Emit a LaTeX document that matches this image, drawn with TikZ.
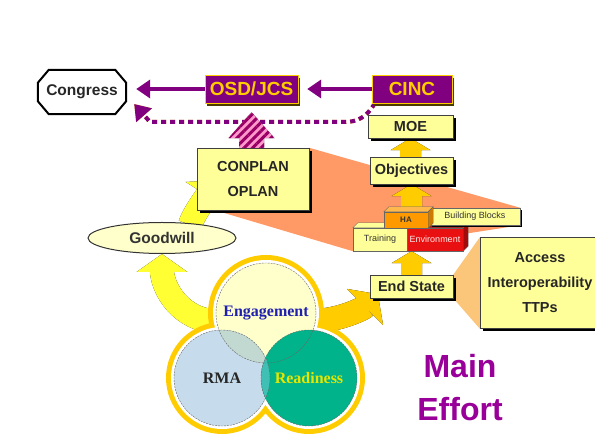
\documentclass[tikz,border=0pt]{standalone}
\usepackage{fontspec}
\setmainfont{Liberation Sans}
\newfontfamily\vennfont{Liberation Serif}
\usetikzlibrary{shapes.geometric,shadows,arrows.meta,patterns.meta,calc}
\pgfdeclarelayer{back}
\pgfsetlayers{back,main}
\definecolor{boxyellow}{HTML}{FFFF99}
\definecolor{paleyellow}{HTML}{FFFFCC}
\definecolor{gold}{HTML}{FFCC00}
\definecolor{brightyellow}{HTML}{FFFF33}
\definecolor{deeppurple}{HTML}{800080}
\definecolor{chiefshadow}{HTML}{4A3A00}
\definecolor{salmon}{HTML}{FF9966}
\definecolor{calloutorange}{HTML}{FBC67A}
\definecolor{rmablue}{HTML}{C6DCEC}
\definecolor{readygreen}{HTML}{00B38A}
\definecolor{engrma}{HTML}{C2D9D2}
\definecolor{rmaready}{HTML}{40BFB5}
\definecolor{engblue}{HTML}{2020B0}
\definecolor{readyyellow}{HTML}{E6E600}
\definecolor{haorange}{HTML}{FF9900}
\definecolor{envred}{HTML}{E81010}
\definecolor{stripepink}{HTML}{FF99CC}
\definecolor{stripepurple}{HTML}{990066}
\definecolor{mepurple}{HTML}{990099}

% block arrow pointing up: style, base point, tip point, head length, half shaft, half head
\newcommand\blockup[6]{%
  \foreach \s in {arrshadow,#1}{%
    \fill[\s] let \p1=(#2), \p2=(#3) in
      (\x2-#5,\y1) -- (\x2-#5,\y2-#4) -- (\x2-#6,\y2-#4) -- (\x2,\y2)
      -- (\x2+#6,\y2-#4) -- (\x2+#5,\y2-#4) -- (\x2+#5,\y1) -- cycle;}}
% wide curved arrow with its shadow
\newcommand\bandup[2]{%
  \foreach \s in {bandshadow,#1}{\draw[band,\s] #2;}}
% top and side face of a brick
\newcommand\brickface[3]{%
  \filldraw[fill=#2, draw=black!60] (#1.north west) -- ++(5,-5) -- ([shift={(5,-5)}]#1.north east) -- (#1.north east) -- cycle;
  \filldraw[fill=#3, draw=black!60] (#1.north east) -- ++(5,-5) -- ([shift={(5,-5)}]#1.south east) -- (#1.south east) -- cycle;}

\begin{document}
\begin{tikzpicture}[x=1pt,y=-1pt]
  \tikzset{
    box/.style={draw=black!75, fill=boxyellow, text=black!85, align=center, inner sep=0pt,
      font=\bfseries\fontsize{14.5}{25}\selectfont,
      drop shadow={shadow xshift=3pt,shadow yshift=-3pt,fill=black,opacity=1}},
    chief/.style={draw=gold, fill=deeppurple, text=gold, inner sep=0pt, minimum height=28pt,
      font=\bfseries\fontsize{19}{22}\selectfont,
      drop shadow={shadow xshift=2pt,shadow yshift=-3pt,fill=chiefshadow,opacity=1}},
    brick/.style={draw=black!60, inner sep=0pt, minimum height=23pt, text=black!80,
      font=\fontsize{9}{10}\selectfont},
    venn/.style={circle, draw=black!60, dash pattern=on 2pt off 1pt, inner sep=0pt,
      font=\vennfont\bfseries\fontsize{16}{18}\selectfont},
    chiefarrow/.style={draw=deeppurple, line width=3.5pt, -{Triangle[length=14pt,width=18pt]}},
    dotline/.style={line width=4pt, dash pattern=on 5pt off 4pt},
    arrshadow/.style={fill=black, shift={(3,1)}},
    goldarrow/.style={fill=gold},
    stripearrow/.style={preaction={fill=stripepink},
      pattern={Lines[angle=45,distance=6pt,line width=3pt]}, pattern color=stripepurple},
    band/.style={line width=24pt, -{Triangle[length=18pt,width=50pt]}},
    bandshadow/.style={draw=black, shift={(3,2)}},
    goodwillband/.style={draw=brightyellow},
    effortband/.style={draw=gold},
  }
  \useasboundingbox (0,0) rectangle (595,443);

  % top row
  \node[minimum width=88pt, minimum height=44pt, inner sep=0pt, text=black!85,
    font=\bfseries\fontsize{15.5}{18}\selectfont] (congress) at (82,92) {Congress};
  \node[chief, minimum width=93pt] (osd) at (251.5,89) {OSD/JCS};
  \node[chief, minimum width=80pt] (cinc) at (412,89) {CINC};

  % right column
  \node[box, minimum width=85pt, minimum height=23pt] (moe) at (410.5,126.5) {MOE};
  \node[box, minimum width=83pt, minimum height=27pt] (obj) at (411.5,170.5) {Objectives};
  \node[box, minimum width=112pt, minimum height=62pt] (conplan) at (253,179) {CONPLAN\\OPLAN};

  % building blocks
  \node[brick, fill=boxyellow, minimum width=54pt] (training) at (380,239.5) {Training};
  \brickface{training}{boxyellow}{boxyellow}
  \node[brick, fill=envred, text=pink!30!white, minimum width=56pt] (env) at (435,239.5) {Environment};
  \brickface{env}{envred!85!black}{envred!70!black}
  \node[brick, fill=boxyellow, minimum width=90pt, minimum height=17pt,
    drop shadow={shadow xshift=2pt,shadow yshift=-2pt,fill=black,opacity=1}] (bblocks) at (475,216.5) {Building Blocks};
  \node[brick, fill=haorange, minimum width=44pt, minimum height=16pt,
    font=\bfseries\fontsize{8}{9}\selectfont] (ha) at (406,220) {HA};
  \brickface{ha}{haorange!70!white}{haorange!80!black}

  \node[box, minimum width=83pt, minimum height=23pt] (endstate) at (411.5,286.5) {End State};
  \node[box, minimum width=120pt, minimum height=91pt] (access) at (540,283) {Access\\Interoperability\\TTPs};
  \node[ellipse, draw=black!80, line width=1pt, fill=paleyellow, minimum width=148pt, minimum height=31pt,
    inner sep=0pt, text=black!80, font=\bfseries\fontsize{15.5}{18}\selectfont] (goodwill) at (162,238) {Goodwill};

  % venn cluster
  \coordinate (ce) at (266,313);
  \coordinate (cr) at (222,378);
  \coordinate (cd) at (309,378);
  \fill[gold] (ce) circle (58pt) (cr) circle (56pt) (cd) circle (56pt);
  \fill[white] (ce) circle (53pt) (cr) circle (51pt) (cd) circle (51pt);
  \fill[paleyellow] (ce) circle (50pt);
  \fill[rmablue] (cr) circle (48pt);
  \fill[readygreen] (cd) circle (48pt);
  \begin{scope}
    \clip (ce) circle (50pt);
    \fill[engrma] (cr) circle (48pt);
  \end{scope}
  \begin{scope}
    \clip (cr) circle (48pt);
    \fill[rmaready] (cd) circle (48pt);
  \end{scope}
  \node[venn, minimum size=100pt, text=engblue] (eng) at (ce) {Engagement};
  \node[venn, minimum size=96pt, text=black!85] (rma) at (cr) {RMA};
  \node[venn, minimum size=96pt, text=readyyellow] (ready) at (cd) {Readiness};

  \node[text=mepurple, align=center, font=\bfseries\fontsize{32}{43}\selectfont] (effort) at (460,388) {Main\\Effort};

  % chain of command
  \draw[chiefarrow, shorten >=9pt] (cinc.west) -- (osd.east);
  \draw[chiefarrow, shorten >=10pt] (osd.west) -- (osd.west -| congress.east);

  \begin{pgfonlayer}{back}
    \fill[white] (0,0) rectangle (595,443);
    \fill[salmon] (conplan.north east) -- (bblocks.north east) -- (bblocks.south east)
      -- (training.south west) -- ([xshift=18pt]conplan.south west) -- cycle;
    \fill[calloutorange] (endstate.north east) -- (access.north west) -- (access.south west)
      -- (endstate.south east) -- cycle;
    \filldraw[line width=2pt, fill=white] ([xshift=11pt]congress.north west) -- ([xshift=-11pt]congress.north east)
      -- ([yshift=-13pt]congress.north east) -- ([yshift=13pt]congress.south east)
      -- ([xshift=-11pt]congress.south east) -- ([xshift=11pt]congress.south west)
      -- ([yshift=13pt]congress.south west) -- ([yshift=-13pt]congress.north west) -- cycle;
    % report back to congress
    \coordinate (bendR) at (345,122);
    \coordinate (bendL) at (150,122);
    \draw[dotline, draw=gold, shift={(1,1.5)}, -{Triangle[length=15pt,width=20pt]}]
      ([xshift=3pt]cinc.south west) .. controls +(-8,14) and +(12,0) .. (bendR) -- (bendL)
      -- ([shift={(8,12)}]congress.east);
    \draw[dotline, draw=deeppurple, -{Triangle[length=15pt,width=20pt,fill=deeppurple]}]
      ([xshift=3pt]cinc.south west) .. controls +(-8,14) and +(12,0) .. (bendR) -- (bendL)
      -- ([shift={(8,12)}]congress.east);
    % block arrows
    \blockup{stripearrow}{conplan.north}{[yshift=-9pt]osd.south}{26pt}{12.5pt}{23pt}
    \blockup{goldarrow}{obj.north}{moe.south}{12pt}{10.5pt}{20pt}
    \blockup{goldarrow}{ha.north}{obj.south}{12pt}{10.5pt}{20pt}
    \blockup{goldarrow}{endstate.north}{endstate.north |- env.south}{12pt}{10.5pt}{20pt}
    % curved arrows
    \bandup{goodwillband}{([shift={(-5,8)}]eng.west) .. controls +(-35,-5) and +(0,30) .. (goodwill.south)}
    \bandup{goodwillband}{([shift={(28,3)}]goodwill.north) .. controls +(4,-12) and +(-10,16) .. ([shift={(20,-30)}]conplan.south west)}
    \bandup{effortband}{([shift={(-4,8)}]eng.east) .. controls +(25,0) and +(-15,15) .. ([shift={(8,-4)}]endstate.south west)}
  \end{pgfonlayer}
\end{tikzpicture}
\end{document}
